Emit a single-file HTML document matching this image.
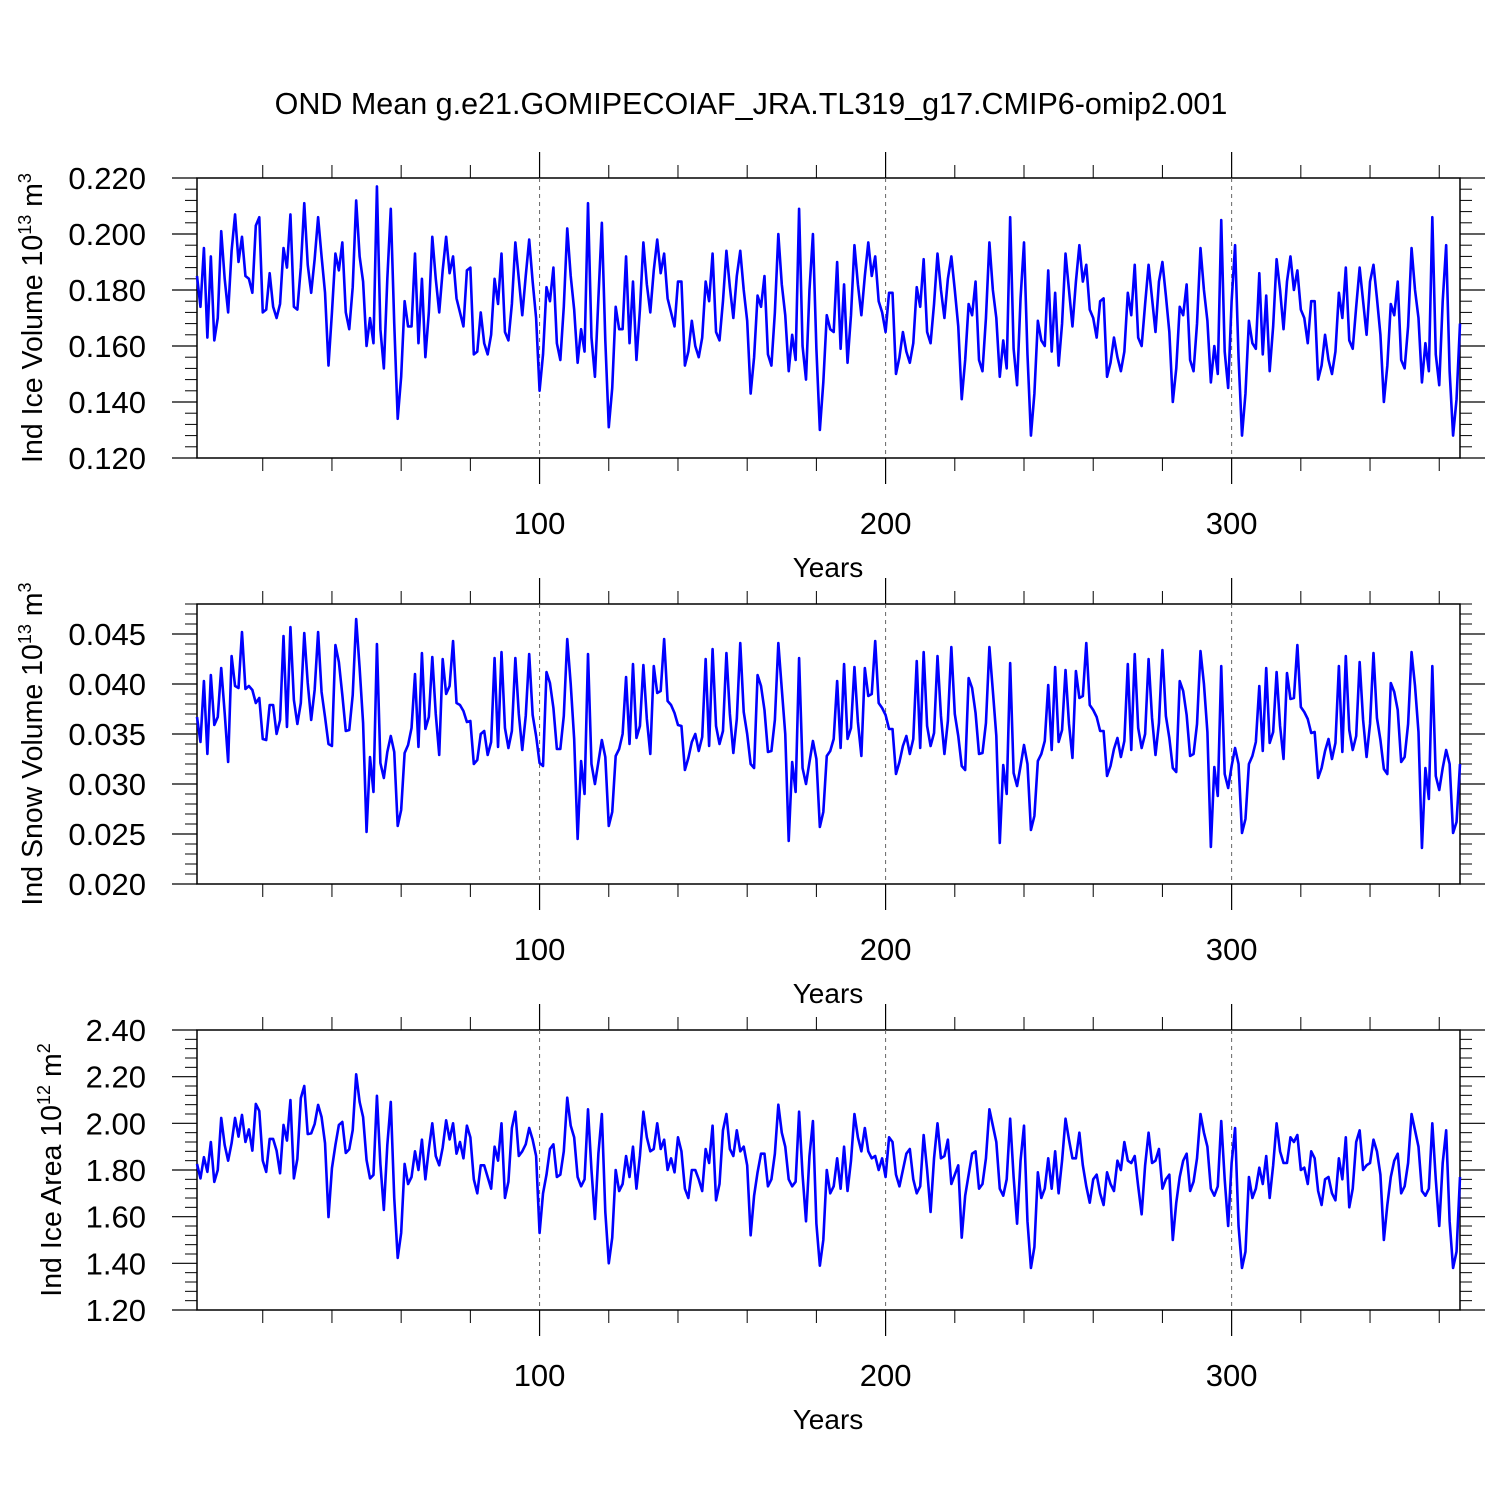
<!DOCTYPE html>
<html><head><meta charset="utf-8"><style>
html,body{margin:0;padding:0;background:#fff;}
svg{display:block;font-family:"Liberation Sans",sans-serif;}
</style></head><body>
<svg id="chart" width="1500" height="1500" viewBox="0 0 1500 1500" xmlns="http://www.w3.org/2000/svg">
<rect width="1500" height="1500" fill="#fff"/>
<text x="751" y="114" font-size="30.5" text-anchor="middle">OND Mean g.e21.GOMIPECOIAF_JRA.TL319_g17.CMIP6-omip2.001</text>
</svg>
<script>
const iceVolume = [
0.185,0.174,0.195,0.163,0.192,0.162,0.170,0.201,0.184,0.172,0.194,0.207,0.190,0.199,0.185,0.184,0.179,0.203,0.206,0.172,0.173,0.186,0.174,0.170,0.175,0.195,0.188,0.207,0.174,0.173,0.188,0.211,0.189,0.179,0.191,0.206,0.192,0.179,0.153,0.172,0.193,0.187,0.197,0.172,0.166,0.181,0.212,0.192,0.183,0.160,0.170,0.161,0.217,0.166,0.152,0.184,0.209,0.168,0.134,0.149,0.176,
0.167,0.167,0.193,0.161,0.184,0.156,0.172,0.199,0.184,0.172,0.187,0.199,0.186,0.192,0.177,0.172,0.167,0.187,0.188,0.157,0.158,0.172,0.161,0.157,0.164,0.184,0.175,0.193,0.165,0.162,0.175,0.197,0.184,0.171,0.185,0.198,0.183,0.170,0.144,0.157,0.181,0.176,0.188,0.161,0.155,0.174,0.202,0.185,0.173,0.154,0.166,0.158,0.211,0.163,0.149,0.177,0.204,0.162,0.131,0.145,0.174,
0.166,0.166,0.192,0.161,0.183,0.155,0.173,0.197,0.182,0.172,0.187,0.198,0.186,0.193,0.177,0.172,0.167,0.183,0.183,0.153,0.158,0.169,0.160,0.156,0.163,0.183,0.176,0.193,0.165,0.162,0.176,0.194,0.181,0.170,0.185,0.194,0.180,0.169,0.143,0.156,0.178,0.174,0.185,0.157,0.153,0.172,0.200,0.182,0.171,0.151,0.164,0.155,0.209,0.160,0.148,0.180,0.200,0.159,0.130,0.147,0.171,
0.166,0.165,0.190,0.159,0.182,0.154,0.171,0.196,0.182,0.171,0.185,0.197,0.185,0.192,0.176,0.172,0.165,0.179,0.179,0.150,0.156,0.165,0.158,0.154,0.161,0.181,0.174,0.191,0.165,0.161,0.175,0.193,0.180,0.170,0.184,0.192,0.180,0.167,0.141,0.155,0.175,0.171,0.183,0.155,0.151,0.170,0.197,0.180,0.170,0.149,0.162,0.152,0.206,0.159,0.146,0.177,0.197,0.157,0.128,0.143,0.169,
0.162,0.160,0.187,0.158,0.179,0.153,0.168,0.193,0.180,0.167,0.183,0.196,0.183,0.189,0.173,0.170,0.163,0.176,0.177,0.149,0.154,0.163,0.156,0.151,0.158,0.179,0.171,0.189,0.163,0.160,0.175,0.189,0.177,0.165,0.183,0.190,0.178,0.165,0.140,0.152,0.174,0.171,0.182,0.155,0.151,0.168,0.195,0.180,0.169,0.147,0.160,0.150,0.205,0.158,0.145,0.176,0.196,0.156,0.128,0.143,0.169,
0.161,0.159,0.186,0.157,0.178,0.151,0.167,0.191,0.180,0.166,0.183,0.192,0.180,0.187,0.173,0.170,0.161,0.176,0.176,0.148,0.153,0.164,0.155,0.150,0.158,0.179,0.170,0.188,0.162,0.159,0.174,0.188,0.176,0.164,0.183,0.189,0.177,0.164,0.140,0.153,0.175,0.171,0.183,0.155,0.152,0.167,0.195,0.180,0.170,0.147,0.161,0.151,0.206,0.157,0.146,0.176,0.196,0.151,0.128,0.141,0.168
];
const snowVolume = [
0.0367,0.0342,0.0403,0.0330,0.0409,0.0359,0.0367,0.0416,0.0371,0.0322,0.0428,0.0398,0.0396,0.0452,0.0395,0.0398,0.0394,0.0381,0.0386,0.0345,0.0344,0.0379,0.0379,0.0350,0.0364,0.0448,0.0357,0.0457,0.0384,0.0360,0.0381,0.0451,0.0401,0.0364,0.0394,0.0452,0.0392,0.0367,0.0340,0.0338,0.0439,0.0422,0.0389,0.0353,0.0354,0.0389,0.0465,0.0416,0.0361,0.0252,0.0327,0.0292,0.0440,0.0321,0.0306,0.0332,0.0348,0.0332,0.0258,0.0274,0.0331,
0.0339,0.0356,0.0410,0.0337,0.0431,0.0355,0.0367,0.0427,0.0370,0.0329,0.0425,0.0390,0.0398,0.0443,0.0381,0.0379,0.0373,0.0362,0.0363,0.0320,0.0324,0.0350,0.0353,0.0329,0.0342,0.0426,0.0337,0.0432,0.0356,0.0336,0.0353,0.0426,0.0370,0.0334,0.0368,0.0430,0.0369,0.0348,0.0321,0.0318,0.0412,0.0401,0.0376,0.0335,0.0335,0.0368,0.0445,0.0400,0.0345,0.0245,0.0323,0.0290,0.0430,0.0320,0.0300,0.0322,0.0344,0.0327,0.0258,0.0272,0.0328,
0.0335,0.0350,0.0407,0.0340,0.0420,0.0346,0.0358,0.0419,0.0365,0.0330,0.0418,0.0391,0.0393,0.0445,0.0383,0.0379,0.0371,0.0359,0.0358,0.0314,0.0326,0.0342,0.0350,0.0333,0.0347,0.0425,0.0338,0.0435,0.0358,0.0340,0.0353,0.0431,0.0370,0.0331,0.0365,0.0441,0.0372,0.0350,0.0320,0.0316,0.0409,0.0398,0.0374,0.0332,0.0333,0.0364,0.0441,0.0395,0.0350,0.0243,0.0322,0.0292,0.0426,0.0316,0.0300,0.0322,0.0343,0.0325,0.0257,0.0272,0.0328,
0.0333,0.0345,0.0403,0.0336,0.0420,0.0345,0.0356,0.0417,0.0362,0.0328,0.0416,0.0388,0.0390,0.0443,0.0381,0.0376,0.0369,0.0355,0.0355,0.0310,0.0322,0.0338,0.0348,0.0330,0.0345,0.0423,0.0336,0.0432,0.0358,0.0338,0.0351,0.0428,0.0368,0.0330,0.0363,0.0437,0.0370,0.0348,0.0318,0.0314,0.0406,0.0396,0.0371,0.0330,0.0331,0.0361,0.0437,0.0393,0.0348,0.0241,0.0319,0.0290,0.0421,0.0311,0.0298,0.0318,0.0339,0.0320,0.0254,0.0268,0.0323,
0.0330,0.0343,0.0399,0.0334,0.0417,0.0342,0.0354,0.0414,0.0360,0.0326,0.0413,0.0386,0.0388,0.0441,0.0379,0.0374,0.0367,0.0353,0.0353,0.0308,0.0318,0.0335,0.0346,0.0327,0.0343,0.0420,0.0334,0.0430,0.0356,0.0336,0.0350,0.0425,0.0366,0.0329,0.0361,0.0434,0.0368,0.0346,0.0316,0.0312,0.0403,0.0393,0.0369,0.0328,0.0330,0.0360,0.0433,0.0400,0.0352,0.0237,0.0317,0.0288,0.0418,0.0310,0.0296,0.0318,0.0336,0.0320,0.0251,0.0265,0.0320,
0.0328,0.0342,0.0398,0.0333,0.0416,0.0341,0.0352,0.0412,0.0358,0.0325,0.0411,0.0385,0.0386,0.0439,0.0377,0.0372,0.0365,0.0351,0.0352,0.0306,0.0316,0.0333,0.0345,0.0325,0.0341,0.0418,0.0332,0.0428,0.0354,0.0334,0.0348,0.0422,0.0364,0.0327,0.0360,0.0431,0.0366,0.0344,0.0315,0.0310,0.0401,0.0392,0.0374,0.0322,0.0327,0.0360,0.0432,0.0398,0.0352,0.0236,0.0316,0.0285,0.0418,0.0308,0.0294,0.0316,0.0334,0.0320,0.0251,0.0262,0.0320
];
const iceArea = [
1.826,1.764,1.855,1.792,1.920,1.749,1.800,2.023,1.907,1.840,1.915,2.023,1.943,2.036,1.920,1.974,1.883,2.083,2.053,1.840,1.792,1.933,1.933,1.883,1.786,1.993,1.926,2.100,1.764,1.847,2.108,2.160,1.954,1.957,1.997,2.079,2.027,1.915,1.598,1.808,1.907,1.993,2.006,1.873,1.889,1.971,2.210,2.092,2.027,1.843,1.764,1.779,2.118,1.826,1.629,1.907,2.092,1.680,1.423,1.530,1.826,
1.740,1.770,1.880,1.800,1.930,1.760,1.890,2.000,1.860,1.820,1.896,2.013,1.931,2.000,1.870,1.920,1.850,1.990,1.940,1.760,1.700,1.820,1.820,1.770,1.720,1.900,1.840,2.000,1.680,1.750,1.980,2.050,1.860,1.880,1.910,1.980,1.930,1.860,1.530,1.700,1.780,1.890,1.910,1.770,1.780,1.880,2.110,1.990,1.940,1.770,1.730,1.760,2.060,1.800,1.590,1.870,2.040,1.620,1.400,1.510,1.800,
1.710,1.740,1.860,1.770,1.900,1.720,1.860,2.050,1.940,1.880,1.890,2.000,1.890,1.930,1.800,1.850,1.790,1.940,1.880,1.720,1.680,1.800,1.800,1.760,1.710,1.890,1.830,1.990,1.670,1.740,1.970,2.040,1.890,1.860,1.970,1.880,1.900,1.820,1.520,1.690,1.790,1.870,1.870,1.730,1.760,1.870,2.080,1.960,1.900,1.760,1.730,1.750,2.050,1.780,1.580,1.860,2.010,1.570,1.390,1.500,1.800,
1.700,1.730,1.850,1.720,1.900,1.710,1.840,2.040,1.940,1.880,1.980,1.880,1.850,1.860,1.800,1.850,1.770,1.940,1.920,1.780,1.730,1.800,1.870,1.890,1.760,1.700,1.730,1.950,1.800,1.620,1.850,2.000,1.850,1.860,1.930,1.740,1.780,1.820,1.510,1.690,1.780,1.870,1.880,1.720,1.740,1.850,2.060,1.990,1.920,1.720,1.690,1.760,2.020,1.770,1.570,1.840,1.990,1.580,1.380,1.470,1.790,
1.680,1.720,1.850,1.720,1.880,1.700,1.840,2.020,1.930,1.850,1.850,1.960,1.820,1.730,1.660,1.760,1.780,1.700,1.650,1.790,1.740,1.710,1.840,1.800,1.920,1.840,1.830,1.860,1.730,1.610,1.820,1.960,1.830,1.840,1.890,1.720,1.760,1.780,1.500,1.660,1.770,1.840,1.870,1.710,1.750,1.850,2.040,1.960,1.900,1.720,1.690,1.730,2.010,1.760,1.560,1.830,1.980,1.560,1.380,1.450,1.770,
1.680,1.720,1.810,1.740,1.860,1.680,1.820,2.000,1.880,1.830,1.830,1.940,1.920,1.950,1.800,1.810,1.740,1.880,1.850,1.710,1.650,1.760,1.770,1.700,1.670,1.850,1.760,1.940,1.640,1.720,1.920,1.970,1.800,1.820,1.830,1.930,1.880,1.780,1.500,1.650,1.770,1.840,1.870,1.700,1.730,1.830,2.040,1.970,1.900,1.710,1.690,1.720,2.000,1.760,1.560,1.830,1.970,1.580,1.380,1.450,1.770
];
const xMajorTicks = [100, 200, 300];
const xMinorTicks = [20,40,60,80,120,140,160,180,220,240,260,280,320,340,360];
const p1Labels = ["0.120","0.140","0.160","0.180","0.200","0.220"];
const p2Labels = ["0.020","0.025","0.030","0.035","0.040","0.045"];
const p3Labels = ["1.20","1.40","1.60","1.80","2.00","2.20","2.40"];

const svg = document.getElementById('chart');
const NS = 'http://www.w3.org/2000/svg';
const X0 = 197, X1 = 1460;
function xScale(yr){ return X0 + (yr - 1) * (X1 - X0) / 365; }
function mk(tag, attrs){ const e = document.createElementNS(NS, tag); for (const k in attrs) e.setAttribute(k, attrs[k]); svg.appendChild(e); return e; }

const panels = [
 {key:'ice-volume', data: iceVolume, top:178, bot:458, vmin:0.120, vmax:0.220, major:0.020, minor:0.004, labels:p1Labels, title:'Ind Ice Volume 10', exp:'13', unit:' m', uexp:'3', tx:33},
 {key:'snow-volume', data: snowVolume, top:604, bot:884, vmin:0.020, vmax:0.048, major:0.005, minor:0.001, labels:p2Labels, title:'Ind Snow Volume 10', exp:'13', unit:' m', uexp:'3', tx:33},
 {key:'ice-area', data: iceArea, top:1030, bot:1310, vmin:1.20, vmax:2.40, major:0.20, minor:0.04, labels:p3Labels, title:'Ind Ice Area 10', exp:'12', unit:' m', uexp:'2', tx:52}
];

panels.forEach(p => {
  const yScale = v => p.bot - (v - p.vmin) / (p.vmax - p.vmin) * (p.bot - p.top);
  const frame = mk('rect', {x:X0, y:p.top, width:X1-X0, height:p.bot-p.top, fill:'none', stroke:'#000', 'stroke-width':1.5});
  
  
  xMajorTicks.forEach(t => {
    const x = xScale(t);
    const g = mk('line', {x1:x, x2:x, y1:p.top, y2:p.bot, stroke:'#666', 'stroke-width':1, 'stroke-dasharray':'4 4'});
    
    
    mk('line', {x1:x, x2:x, y1:p.top-26, y2:p.top, stroke:'#000', 'stroke-width':1.2});
    mk('line', {x1:x, x2:x, y1:p.bot, y2:p.bot+26, stroke:'#000', 'stroke-width':1.2});
    const lb = mk('text', {x:x, y:p.bot+76, 'font-size':31, 'text-anchor':'middle'});
    lb.textContent = t;
    
    
  });
  xMinorTicks.forEach(t => {
    const x = xScale(t);
    mk('line', {x1:x, x2:x, y1:p.top-13, y2:p.top, stroke:'#000', 'stroke-width':1});
    mk('line', {x1:x, x2:x, y1:p.bot, y2:p.bot+13, stroke:'#000', 'stroke-width':1});
  });
  const nMinor = Math.round((p.vmax - p.vmin) / p.minor);
  for (let i = 0; i <= nMinor; i++) {
    const v = p.vmin + i * p.minor;
    const y = yScale(v);
    const isMajor = Math.abs(v / p.major - Math.round(v / p.major)) < 1e-6;
    const len = isMajor ? 25 : 12;
    mk('line', {x1:X0-len, x2:X0, y1:y, y2:y, stroke:'#000', 'stroke-width':isMajor?1.2:1});
    mk('line', {x1:X1, x2:X1+len, y1:y, y2:y, stroke:'#000', 'stroke-width':isMajor?1.2:1});
  }
  p.labels.forEach(s => {
    const y = yScale(parseFloat(s));
    const lb = mk('text', {x:146, y:y+11, 'font-size':31, 'text-anchor':'end'});
    lb.textContent = s;
    
    
  });
  const xt = mk('text', {x:828, y:p.bot+119, 'font-size':28, 'text-anchor':'middle'});
  xt.textContent = 'Years';
  
  
  const cy = (p.top + p.bot) / 2;
  const yt = mk('text', {x:0, y:0, 'font-size':28.5, 'text-anchor':'middle', transform:'translate(' + (p.tx+9) + ',' + cy + ') rotate(-90)'});
  
  
  const t1 = document.createElementNS(NS, 'tspan'); t1.textContent = p.title; yt.appendChild(t1);
  const t2 = document.createElementNS(NS, 'tspan'); t2.setAttribute('dy', '-11'); t2.setAttribute('font-size', '18'); t2.textContent = p.exp; yt.appendChild(t2);
  const t3 = document.createElementNS(NS, 'tspan'); t3.setAttribute('dy', '11'); t3.textContent = p.unit; yt.appendChild(t3);
  const t4 = document.createElementNS(NS, 'tspan'); t4.setAttribute('dy', '-11'); t4.setAttribute('font-size', '18'); t4.textContent = p.uexp; yt.appendChild(t4);
  const pts = p.data.map((v, i) => xScale(i + 1).toFixed(2) + ',' + yScale(v).toFixed(2)).join(' ');
  const line = mk('polyline', {points:pts, fill:'none', stroke:'#0000ff', 'stroke-width':2.6, 'stroke-linejoin':'round'});
  
  
});
</script>
</body></html>
